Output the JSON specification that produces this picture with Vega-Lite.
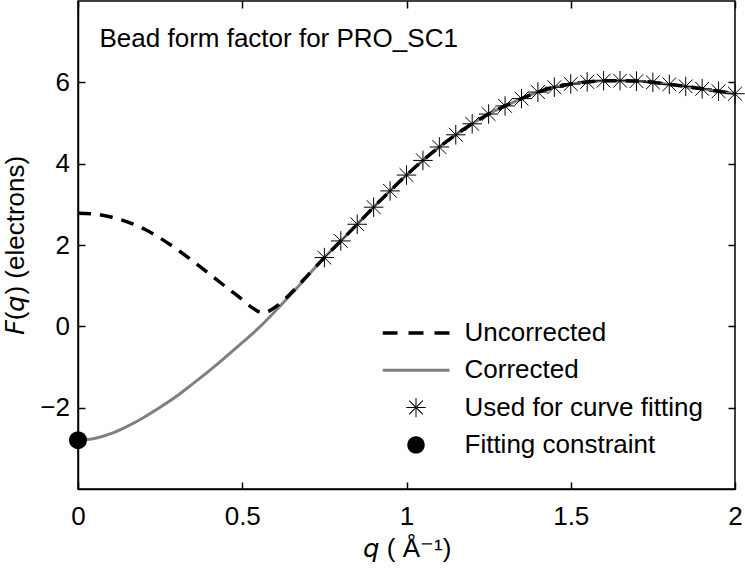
{
  "$schema": "https://vega.github.io/schema/vega-lite/v6.json",
  "width": 657,
  "height": 488,
  "autosize": {"type": "none"},
  "padding": {"left": 78, "top": 1, "right": 10, "bottom": 80},
  "background": "white",
  "config": {
    "font": "Liberation Sans",
    "view": {"stroke": "black", "strokeWidth": 1.5},
    "axis": {
      "grid": false,
      "domainColor": "black",
      "domainWidth": 1.5,
      "tickColor": "black",
      "tickWidth": 1.5,
      "tickSize": -7,
      "labelFont": "Liberation Sans",
      "labelFontSize": 26,
      "labelColor": "black",
      "titleFont": "Liberation Sans",
      "titleFontSize": 26,
      "titleFontWeight": "normal",
      "titleColor": "black",
      "labelFlush": false,
      "labelOverlap": false
    }
  },
  "title": {
    "text": "Bead form factor for PRO_SC1",
    "anchor": "start",
    "frame": "group",
    "orient": "none",
    "offset": 0,
    "dx": 21.5,
    "dy": 46,
    "baseline": "alphabetic",
    "font": "Liberation Sans",
    "fontSize": 26,
    "fontWeight": "normal",
    "color": "black"
  },
  "data": {
    "values": [
      {"series": "Corrected", "q": 0, "F": -2.8},
      {"series": "Corrected", "q": 0.05, "F": -2.76},
      {"series": "Corrected", "q": 0.1, "F": -2.64},
      {"series": "Corrected", "q": 0.15, "F": -2.46},
      {"series": "Corrected", "q": 0.2, "F": -2.24},
      {"series": "Corrected", "q": 0.25, "F": -1.99},
      {"series": "Corrected", "q": 0.3, "F": -1.72},
      {"series": "Corrected", "q": 0.35, "F": -1.41},
      {"series": "Corrected", "q": 0.4, "F": -1.09},
      {"series": "Corrected", "q": 0.45, "F": -0.75},
      {"series": "Corrected", "q": 0.5, "F": -0.4},
      {"series": "Corrected", "q": 0.55, "F": -0.04},
      {"series": "Corrected", "q": 0.6, "F": 0.37},
      {"series": "Corrected", "q": 0.65, "F": 0.8},
      {"series": "Corrected", "q": 0.7, "F": 1.25},
      {"series": "Corrected", "q": 0.75, "F": 1.69},
      {"series": "Corrected", "q": 0.8, "F": 2.1},
      {"series": "Corrected", "q": 0.85, "F": 2.51},
      {"series": "Corrected", "q": 0.9, "F": 2.93},
      {"series": "Corrected", "q": 0.95, "F": 3.33},
      {"series": "Corrected", "q": 1.0, "F": 3.72},
      {"series": "Corrected", "q": 1.05, "F": 4.08},
      {"series": "Corrected", "q": 1.1, "F": 4.41},
      {"series": "Corrected", "q": 1.15, "F": 4.71},
      {"series": "Corrected", "q": 1.2, "F": 4.98},
      {"series": "Corrected", "q": 1.25, "F": 5.22},
      {"series": "Corrected", "q": 1.3, "F": 5.42},
      {"series": "Corrected", "q": 1.35, "F": 5.6},
      {"series": "Corrected", "q": 1.4, "F": 5.76},
      {"series": "Corrected", "q": 1.45, "F": 5.88},
      {"series": "Corrected", "q": 1.5, "F": 5.96},
      {"series": "Corrected", "q": 1.55, "F": 6.01},
      {"series": "Corrected", "q": 1.6, "F": 6.04},
      {"series": "Corrected", "q": 1.65, "F": 6.04},
      {"series": "Corrected", "q": 1.7, "F": 6.03},
      {"series": "Corrected", "q": 1.75, "F": 6.0},
      {"series": "Corrected", "q": 1.8, "F": 5.95},
      {"series": "Corrected", "q": 1.85, "F": 5.9},
      {"series": "Corrected", "q": 1.9, "F": 5.84},
      {"series": "Corrected", "q": 1.95, "F": 5.78},
      {"series": "Corrected", "q": 2.0, "F": 5.72},
      {"series": "Uncorrected", "q": 0, "F": 2.78},
      {"series": "Uncorrected", "q": 0.05, "F": 2.76},
      {"series": "Uncorrected", "q": 0.1, "F": 2.69},
      {"series": "Uncorrected", "q": 0.15, "F": 2.57},
      {"series": "Uncorrected", "q": 0.2, "F": 2.4},
      {"series": "Uncorrected", "q": 0.25, "F": 2.17},
      {"series": "Uncorrected", "q": 0.3, "F": 1.9},
      {"series": "Uncorrected", "q": 0.35, "F": 1.6},
      {"series": "Uncorrected", "q": 0.4, "F": 1.29},
      {"series": "Uncorrected", "q": 0.45, "F": 0.97},
      {"series": "Uncorrected", "q": 0.5, "F": 0.66},
      {"series": "Uncorrected", "q": 0.53, "F": 0.46},
      {"series": "Uncorrected", "q": 0.55, "F": 0.36},
      {"series": "Uncorrected", "q": 0.565, "F": 0.33},
      {"series": "Uncorrected", "q": 0.58, "F": 0.37},
      {"series": "Uncorrected", "q": 0.6, "F": 0.47},
      {"series": "Uncorrected", "q": 0.65, "F": 0.83},
      {"series": "Uncorrected", "q": 0.7, "F": 1.26},
      {"series": "Uncorrected", "q": 0.75, "F": 1.69},
      {"series": "Uncorrected", "q": 0.8, "F": 2.1},
      {"series": "Uncorrected", "q": 0.85, "F": 2.51},
      {"series": "Uncorrected", "q": 0.9, "F": 2.93},
      {"series": "Uncorrected", "q": 0.95, "F": 3.33},
      {"series": "Uncorrected", "q": 1.0, "F": 3.72},
      {"series": "Uncorrected", "q": 1.05, "F": 4.08},
      {"series": "Uncorrected", "q": 1.1, "F": 4.41},
      {"series": "Uncorrected", "q": 1.15, "F": 4.71},
      {"series": "Uncorrected", "q": 1.2, "F": 4.98},
      {"series": "Uncorrected", "q": 1.25, "F": 5.22},
      {"series": "Uncorrected", "q": 1.3, "F": 5.42},
      {"series": "Uncorrected", "q": 1.35, "F": 5.6},
      {"series": "Uncorrected", "q": 1.4, "F": 5.76},
      {"series": "Uncorrected", "q": 1.45, "F": 5.88},
      {"series": "Uncorrected", "q": 1.5, "F": 5.96},
      {"series": "Uncorrected", "q": 1.55, "F": 6.01},
      {"series": "Uncorrected", "q": 1.6, "F": 6.04},
      {"series": "Uncorrected", "q": 1.65, "F": 6.04},
      {"series": "Uncorrected", "q": 1.7, "F": 6.03},
      {"series": "Uncorrected", "q": 1.75, "F": 6.0},
      {"series": "Uncorrected", "q": 1.8, "F": 5.95},
      {"series": "Uncorrected", "q": 1.85, "F": 5.9},
      {"series": "Uncorrected", "q": 1.9, "F": 5.84},
      {"series": "Uncorrected", "q": 1.95, "F": 5.78},
      {"series": "Uncorrected", "q": 2.0, "F": 5.72},
      {"series": "Used for curve fitting", "q": 0.75, "F": 1.69},
      {"series": "Used for curve fitting", "q": 0.8, "F": 2.1},
      {"series": "Used for curve fitting", "q": 0.85, "F": 2.51},
      {"series": "Used for curve fitting", "q": 0.9, "F": 2.93},
      {"series": "Used for curve fitting", "q": 0.95, "F": 3.33},
      {"series": "Used for curve fitting", "q": 1.0, "F": 3.72},
      {"series": "Used for curve fitting", "q": 1.05, "F": 4.08},
      {"series": "Used for curve fitting", "q": 1.1, "F": 4.41},
      {"series": "Used for curve fitting", "q": 1.15, "F": 4.71},
      {"series": "Used for curve fitting", "q": 1.2, "F": 4.98},
      {"series": "Used for curve fitting", "q": 1.25, "F": 5.22},
      {"series": "Used for curve fitting", "q": 1.3, "F": 5.42},
      {"series": "Used for curve fitting", "q": 1.35, "F": 5.6},
      {"series": "Used for curve fitting", "q": 1.4, "F": 5.76},
      {"series": "Used for curve fitting", "q": 1.45, "F": 5.88},
      {"series": "Used for curve fitting", "q": 1.5, "F": 5.96},
      {"series": "Used for curve fitting", "q": 1.55, "F": 6.01},
      {"series": "Used for curve fitting", "q": 1.6, "F": 6.04},
      {"series": "Used for curve fitting", "q": 1.65, "F": 6.04},
      {"series": "Used for curve fitting", "q": 1.7, "F": 6.03},
      {"series": "Used for curve fitting", "q": 1.75, "F": 6.0},
      {"series": "Used for curve fitting", "q": 1.8, "F": 5.95},
      {"series": "Used for curve fitting", "q": 1.85, "F": 5.9},
      {"series": "Used for curve fitting", "q": 1.9, "F": 5.84},
      {"series": "Used for curve fitting", "q": 1.95, "F": 5.78},
      {"series": "Used for curve fitting", "q": 2.0, "F": 5.72},
      {"series": "Fitting constraint", "q": 0, "F": -2.8}
    ]
  },
  "encoding": {
    "color": {
      "field": "series",
      "type": "nominal",
      "scale": {
        "domain": ["Uncorrected", "Corrected", "Used for curve fitting", "Fitting constraint"],
        "range": ["black", "#808080", "black", "black"]
      },
      "legend": {
        "title": null,
        "orient": "none",
        "legendX": 304.5,
        "legendY": 317,
        "padding": 0,
        "symbolType": "stroke",
        "symbolSize": 4489,
        "symbolStrokeWidth": 0,
        "clipHeight": 30,
        "rowPadding": 7.3,
        "labelFont": "Liberation Sans",
        "labelFontSize": 26,
        "labelColor": "black",
        "labelLimit": 400,
        "labelOffset": 15,
        "encode": {
          "symbols": {
            "update": {
              "shape": [
                {"test": "datum.value === 'Uncorrected'", "value": "M-1,-0.052L-0.552,-0.052L-0.552,0.052L-1,0.052ZM-0.224,-0.052L0.224,-0.052L0.224,0.052L-0.224,0.052ZM0.552,-0.052L1,-0.052L1,0.052L0.552,0.052Z"},
                {"test": "datum.value === 'Corrected'", "value": "M-1,-0.045L1,-0.045L1,0.045L-1,0.045Z"},
                {"test": "datum.value === 'Fitting constraint'", "value": "M-0.26,0A0.26,0.26,0,1,0,0.26,0A0.26,0.26,0,1,0,-0.26,0Z"},
                {"value": "M-0.29,-0.015L0.29,-0.015L0.29,0.015L-0.29,0.015ZM-0.015,-0.29L0.015,-0.29L0.015,0.29L-0.015,0.29ZM-0.194,-0.216L0.216,0.194L0.194,0.216L-0.216,-0.194ZM-0.194,0.216L0.216,-0.194L0.194,-0.216L-0.216,0.194Z"}
              ],
              "fill": [
                {"test": "datum.value === 'Corrected'", "value": "#808080"},
                {"value": "black"}
              ],
              "stroke": {"value": "transparent"},
              "opacity": {"value": 1}
            }
          }
        }
      }
    }
  },
  "layer": [
    {
      "transform": [{"filter": "datum.series === 'Corrected'"}],
      "mark": {"type": "line", "strokeWidth": 3, "interpolate": "monotone"},
      "encoding": {
        "x": {
          "field": "q", "type": "quantitative",
          "scale": {"domain": [0, 2], "nice": false, "zero": false},
          "axis": {"values": [0, 0.5, 1, 1.5, 2], "format": "~g", "labelPadding": 21, "title": "𝘲 ( Å⁻¹)", "titlePadding": 6}
        },
        "y": {
          "field": "F", "type": "quantitative",
          "scale": {"domain": [-4, 8], "nice": false, "zero": false},
          "axis": {"values": [-2, 0, 2, 4, 6], "format": "~g", "labelPadding": 15.5, "title": "𝘍(𝘲) (electrons)", "titlePadding": 11}
        }
      }
    },
    {
      "transform": [{"filter": "datum.series === 'Uncorrected'"}],
      "mark": {"type": "line", "strokeWidth": 3.5, "strokeDash": [13, 9], "interpolate": "monotone"},
      "encoding": {
        "x": {
          "field": "q", "type": "quantitative",
          "scale": {"domain": [0, 2], "nice": false, "zero": false},
          "axis": {"orient": "top", "values": [0, 0.5, 1, 1.5, 2], "labels": false, "domain": false, "title": null}
        },
        "y": {
          "field": "F", "type": "quantitative",
          "scale": {"domain": [-4, 8], "nice": false, "zero": false},
          "axis": {"orient": "right", "values": [-2, 0, 2, 4, 6], "labels": false, "domain": false, "title": null}
        }
      }
    },
    {
      "transform": [{"filter": "datum.series === 'Used for curve fitting'"}],
      "mark": {"type": "point", "filled": false, "opacity": 1, "strokeWidth": 1, "size": 380, "shape": "M-1,0L1,0M0,-1L0,1M-0.707,-0.707L0.707,0.707M-0.707,0.707L0.707,-0.707"},
      "encoding": {
        "x": {"field": "q", "type": "quantitative", "axis": null},
        "y": {"field": "F", "type": "quantitative", "axis": null}
      }
    },
    {
      "transform": [{"filter": "datum.series === 'Fitting constraint'"}],
      "mark": {"type": "point", "filled": true, "opacity": 1, "size": 324, "shape": "circle"},
      "encoding": {
        "x": {"field": "q", "type": "quantitative", "axis": null},
        "y": {"field": "F", "type": "quantitative", "axis": null}
      }
    }
  ],
  "resolve": {"axis": {"x": "independent", "y": "independent"}}
}
